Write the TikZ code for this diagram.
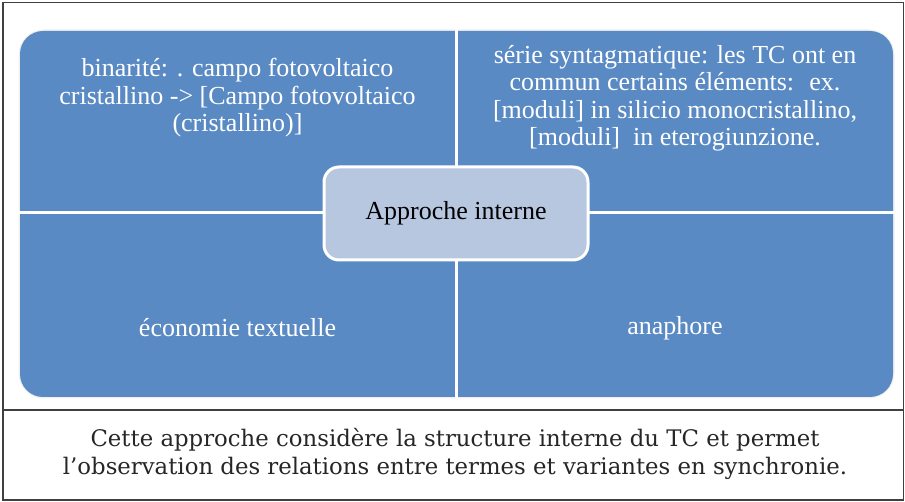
\documentclass[tikz,border=0pt]{standalone}
\usepackage{fontspec}
\setmainfont{Liberation Serif}
\newfontfamily\capfont{DejaVu Serif}
\definecolor{quadblue}{HTML}{5A8AC4}
\definecolor{centerfill}{HTML}{B8C7E0}
\definecolor{framegray}{HTML}{404040}
\begin{document}
\begin{tikzpicture}[x=1pt,y=-1pt,
  quadtext/.style={text=white,align=center,font=\fontsize{26}{27.5}\selectfont,inner sep=0pt},
  centerbox/.style={draw=white,line width=3pt,fill=centerfill,rounded corners=15pt,minimum width=264pt,minimum height=93pt,font=\fontsize{26}{28}\selectfont,text=black},
  captext/.style={align=center,font=\capfont\fontsize{22.8}{28}\selectfont,text=black!85}
]
\useasboundingbox (0,0) rectangle (905,502);
% outer frame
\draw[framegray,line width=1.3pt] (3,2.5) rectangle (903.5,500);
\draw[framegray,line width=1.3pt] (3,410) -- (903.5,410);
% blue matrix
\draw[gray!12,line width=3pt,rounded corners=24pt] (20,31) rectangle (893,397);
\fill[quadblue,rounded corners=23pt] (20,31) rectangle (893,397);
\draw[white,line width=3pt] (456.5,29) -- (456.5,399);
\draw[white,line width=3pt] (18,213) -- (895,213);
% quadrant texts
\node[quadtext] (tl) at (237.5,98) {binarité: . campo fotovoltaico\\cristallino -> [Campo fotovoltaico\\(cristallino)]};
\node[quadtext] (tr) at (675,98.5) {série syntagmatique: les TC ont en\\commun certains éléments:~ ex.\\{[moduli]} in silicio monocristallino,\\{[moduli]}~ in eterogiunzione.};
\node[quadtext] (bl) at (237.5,328) {économie textuelle};
\node[quadtext] (br) at (675,328) {anaphore};
% center
\node[centerbox] (c) at (456,213.5) {Approche interne};
% caption
\node[captext] (cap) at (455,454) {Cette approche considère la structure interne du TC et permet\\l’observation des relations entre termes et variantes en synchronie.};
\end{tikzpicture}
\end{document}
